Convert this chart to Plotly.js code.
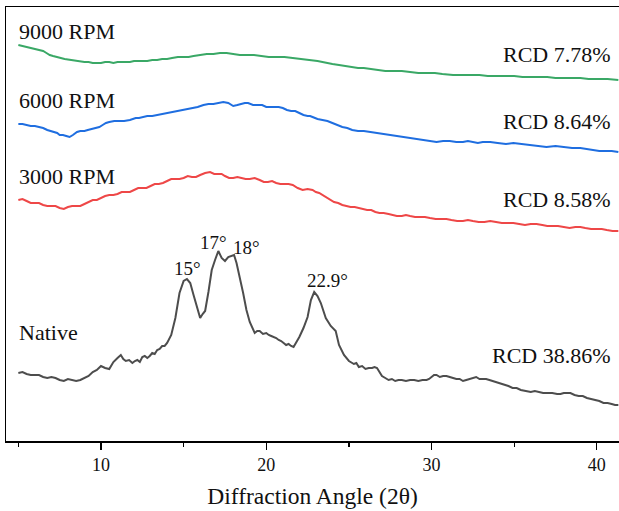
<!DOCTYPE html>
<html>
<head>
<meta charset="utf-8">
<script src="https://cdn.plot.ly/plotly-3.0.1.min.js"></script>
<style>html,body{margin:0;padding:0;background:#fff;}#chart{width:619px;height:511px;}</style>
</head>
<body>
<div id="chart"></div>
<script>
// 2θ positions and intensities (a.u., offset-stacked as in the figure)
const nativeX = [5.0,5.25,5.5,5.75,6.0,6.25,6.5,6.75,7.0,7.25,7.5,7.75,8.0,8.25,8.5,8.75,9.0,9.25,9.5,9.75,10.0,10.25,10.5,10.75,11.0,11.2,11.35,11.5,11.7,11.9,12.05,12.2,12.35,12.5,12.65,12.8,12.95,13.1,13.25,13.4,13.55,13.7,13.85,14.0,14.25,14.5,14.75,15.0,15.2,15.4,15.6,15.8,16.0,16.15,16.3,16.5,16.7,16.9,17.1,17.3,17.5,17.7,17.9,18.05,18.2,18.4,18.6,18.8,19.0,19.3,19.45,19.6,19.8,20.0,20.15,20.3,20.45,20.6,20.75,20.9,21.05,21.2,21.35,21.5,21.65,21.8,22.0,22.25,22.5,22.7,22.9,23.1,23.3,23.6,23.9,24.2,24.4,24.7,25.0,25.3,25.45,25.6,25.8,26.0,26.2,26.4,26.55,26.7,26.85,27.0,27.2,27.4,27.6,27.8,28.0,28.2,28.45,28.7,28.95,29.2,29.45,29.7,29.85,30.0,30.15,30.3,30.5,30.7,30.9,31.1,31.3,31.5,31.7,31.9,32.1,32.3,32.5,32.7,32.9,33.1,33.3,33.5,33.7,33.9,34.15,34.4,34.65,34.9,35.15,35.4,35.7,36.0,36.25,36.5,36.75,37.0,37.3,37.6,37.8,38.0,38.2,38.4,38.65,38.9,39.15,39.4,39.65,39.9,40.15,40.4,40.65,40.9,41.1,41.3];
const nativeY = [68,69,67,66,66,66,64,63,64,63,61,60,62,61,60,61,63,65,69,71,75,73,72,79,83,86,82,80,81,78,80,81,79,84,85,83,85,88,87,91,92,95,95,98,106,123,148,160,162,158,146,133,123,127,130,149,171,181,190,183,180,184,185,186,178,164,148,131,119,108,110,110,107,108,106,105,104,103,101,100,98,96,97,95,94,98,104,113,124,141,149,145,138,123,115,110,96,86,80,77,78,74,75,72,73,73,74,73,69,65,63,61,62,60,61,61,60,61,61,60,61,61,62,64,66,66,64,65,65,64,63,62,62,60,61,62,63,64,62,62,62,61,60,59,58,56,55,53,53,51,50,49,50,49,48,48,48,47,47,48,48,48,46,45,45,43,42,41,40,38,38,37,36,36];

const rpm3000X = [5.0,5.25,5.5,5.75,6.0,6.25,6.5,6.75,7.0,7.25,7.5,7.75,8.0,8.25,8.5,8.75,9.0,9.25,9.5,9.75,10.0,10.25,10.5,10.75,11.0,11.25,11.5,11.75,12.0,12.25,12.5,12.75,13.0,13.25,13.5,13.75,14.0,14.25,14.5,14.75,15.0,15.25,15.5,15.75,16.0,16.3,16.6,16.85,17.1,17.3,17.5,17.75,18.0,18.25,18.5,18.75,19.0,19.3,19.6,19.85,20.1,20.35,20.6,20.85,21.1,21.35,21.6,21.9,22.2,22.5,22.8,23.0,23.2,23.4,23.65,23.9,24.1,24.35,24.6,24.85,25.1,25.35,25.6,25.85,26.1,26.35,26.6,26.85,27.1,27.4,27.65,27.9,28.2,28.45,28.7,29.0,29.3,29.6,29.9,30.25,30.6,30.9,31.2,31.55,31.9,32.2,32.5,32.85,33.2,33.55,33.9,34.25,34.6,34.95,35.3,35.65,36.0,36.35,36.7,37.0,37.3,37.65,38.0,38.35,38.7,39.0,39.3,39.65,40.0,40.3,40.6,40.95,41.3];
const rpm3000Y = [241,242,240,238,238,238,236,235,235,235,233,232,234,235,235,235,237,239,241,241,243,245,246,246,247,249,249,249,251,253,253,253,255,257,257,258,260,262,262,262,263,265,264,264,266,268,269,267,267,267,265,263,263,264,263,262,262,263,261,259,259,260,258,257,257,257,256,253,251,252,251,249,248,246,243,241,239,238,236,235,234,234,233,232,231,231,229,228,228,227,226,225,225,226,225,224,224,224,223,222,222,222,221,220,220,221,220,219,219,220,219,218,218,218,217,216,217,217,216,215,215,215,214,213,214,214,213,212,212,212,211,210,210];

const rpm6000X = [5.0,5.25,5.5,5.75,6.0,6.25,6.5,6.75,7.0,7.15,7.35,7.5,7.7,7.9,8.1,8.3,8.55,8.75,9.0,9.2,9.4,9.6,9.75,9.9,10.1,10.3,10.5,10.8,11.1,11.4,11.75,11.9,12.1,12.3,12.5,12.8,13.1,13.4,13.7,13.95,14.2,14.5,14.8,15.15,15.5,15.85,16.2,16.5,16.8,17.1,17.4,17.7,18.0,18.25,18.5,18.7,18.9,19.2,19.5,19.75,20.0,20.25,20.5,20.75,21.0,21.25,21.5,21.75,22.0,22.25,22.5,22.65,22.8,23.1,23.4,23.7,24.0,24.3,24.6,24.9,25.2,25.55,25.9,26.3,26.7,27.05,27.4,27.7,28.0,28.35,28.7,29.1,29.5,29.9,30.3,30.7,31.1,31.5,31.9,32.2,32.5,32.8,33.1,33.55,34.0,34.5,34.95,35.4,35.9,36.4,36.95,37.5,38.0,38.5,39.0,39.4,39.8,40.15,40.5,40.9,41.3];
const rpm6000Y = [317,317,316,315,315,314,313,311,310,309,308,306,306,305,304,306,309,310,310,311,312,313,313,314,316,318,319,320,320,320,321,322,323,323,324,325,325,326,327,328,329,330,331,332,333,334,336,337,337,338,339,338,335,336,337,338,338,336,336,336,334,334,334,334,333,331,330,330,328,326,325,325,324,322,321,320,318,316,314,313,311,310,310,309,308,307,306,306,305,304,303,302,301,300,299,300,300,299,299,300,299,298,299,299,298,297,298,297,296,295,294,295,294,293,293,292,291,290,290,290,289];

const rpm9000X = [5.0,5.25,5.5,5.75,6.0,6.25,6.5,6.7,6.9,7.1,7.3,7.55,7.8,8.2,8.55,8.8,9.0,9.25,9.5,9.75,10.0,10.25,10.5,10.75,11.0,11.25,11.5,11.75,12.0,12.25,12.5,12.8,13.1,13.4,13.7,14.0,14.3,14.65,15.0,15.3,15.6,16.0,16.4,16.8,17.2,17.6,18.0,18.4,18.8,19.25,19.7,20.15,20.6,21.1,21.6,22.1,22.6,22.85,23.1,23.4,23.65,24.0,24.4,24.8,25.2,25.55,25.9,26.3,26.7,27.2,27.7,28.2,28.7,29.2,29.7,30.2,30.65,31.3,31.9,32.4,32.9,33.4,33.9,34.45,35.0,35.5,36.0,36.5,37.0,37.5,38.0,38.5,39.0,39.5,40.0,40.65,41.3];
const rpm9000Y = [396,395,394,393,392,391,390,388,386,385,384,383,382,381,380,379,379,379,378,378,378,379,379,378,379,379,379,379,380,380,380,380,381,381,382,382,383,384,384,384,385,386,387,387,388,388,387,386,386,386,385,384,384,384,383,382,381,381,380,379,378,377,376,375,374,373,373,372,371,370,370,370,369,368,368,368,367,366,366,366,366,365,365,365,365,364,364,364,364,363,363,363,363,362,362,362,361];

const seriesNames = ["Native","3000 RPM","6000 RPM","9000 RPM"];
const rcdLabels = ["RCD 38.86%","RCD 8.58%","RCD 8.64%","RCD 7.78%"];
const peakLabels = ["15°","17°","18°","22.9°"];
const peakX = [15.26,16.78,18.83,23.73];
const peakY = [173,199,194,161];
const xTickVals = [10,20,30,40];

const colors = ["#4d4d4d","#ee4747","#1f6ee0","#3aa866"];
const xs = [nativeX,rpm3000X,rpm6000X,rpm9000X];
const ys = [nativeY,rpm3000Y,rpm6000Y,rpm9000Y];

const traces = xs.map((x,i)=>({
  x:x, y:ys[i], type:"scatter", mode:"lines", name:seriesNames[i],
  line:{color:colors[i], width:2}, showlegend:false, hoverinfo:"skip"
}));

const font = "'Liberation Serif', 'Times New Roman', serif";
const nameLabelY = [109,265,341,410];
const rcdLabelY = [86,242,320,387];
const ann = [];
seriesNames.forEach((n,i)=>{
  ann.push({x:4.9, y:nameLabelY[i], xref:"x", yref:"y", text:n, showarrow:false,
    xanchor:"left", yanchor:"middle", font:{family:font, size:22, color:"#111"}});
  ann.push({x:41.0, y:rcdLabelY[i], xref:"x", yref:"y", text:rcdLabels[i], showarrow:false,
    xanchor:"right", yanchor:"middle", font:{family:font, size:22, color:"#111"}});
});
peakLabels.forEach((t,i)=>{
  ann.push({x:peakX[i], y:peakY[i], xref:"x", yref:"y", text:t, showarrow:false,
    xanchor:"center", yanchor:"middle", font:{family:font, size:19, color:"#111"}});
});

const layout = {
  width:619, height:511,
  margin:{l:6, r:0, t:7, b:70},
  paper_bgcolor:"#fff", plot_bgcolor:"#fff",
  xaxis:{
    range:[4.253,41.34], showgrid:false, zeroline:false,
    showline:true, mirror:true, linecolor:"#000", linewidth:1.5,
    tickvals:xTickVals, ticks:"outside", ticklen:7, tickwidth:1.2, tickcolor:"#000",
    minor:{tickvals:[5,15,25,35], ticks:"outside", ticklen:4, tickwidth:1.2, tickcolor:"#000"},
    tickfont:{family:font, size:18, color:"#111"},
    title:{text:"Diffraction Angle (2θ)", font:{family:font, size:23.5, color:"#111"}, standoff:13}
  },
  yaxis:{
    range:[0,434], showgrid:false, zeroline:false, showticklabels:false, ticks:"",
    showline:true, mirror:false, linecolor:"#000", linewidth:1.5
  },
  annotations:ann
};
Plotly.newPlot("chart", traces, layout, {displayModeBar:false, staticPlot:true});
</script>
</body>
</html>
